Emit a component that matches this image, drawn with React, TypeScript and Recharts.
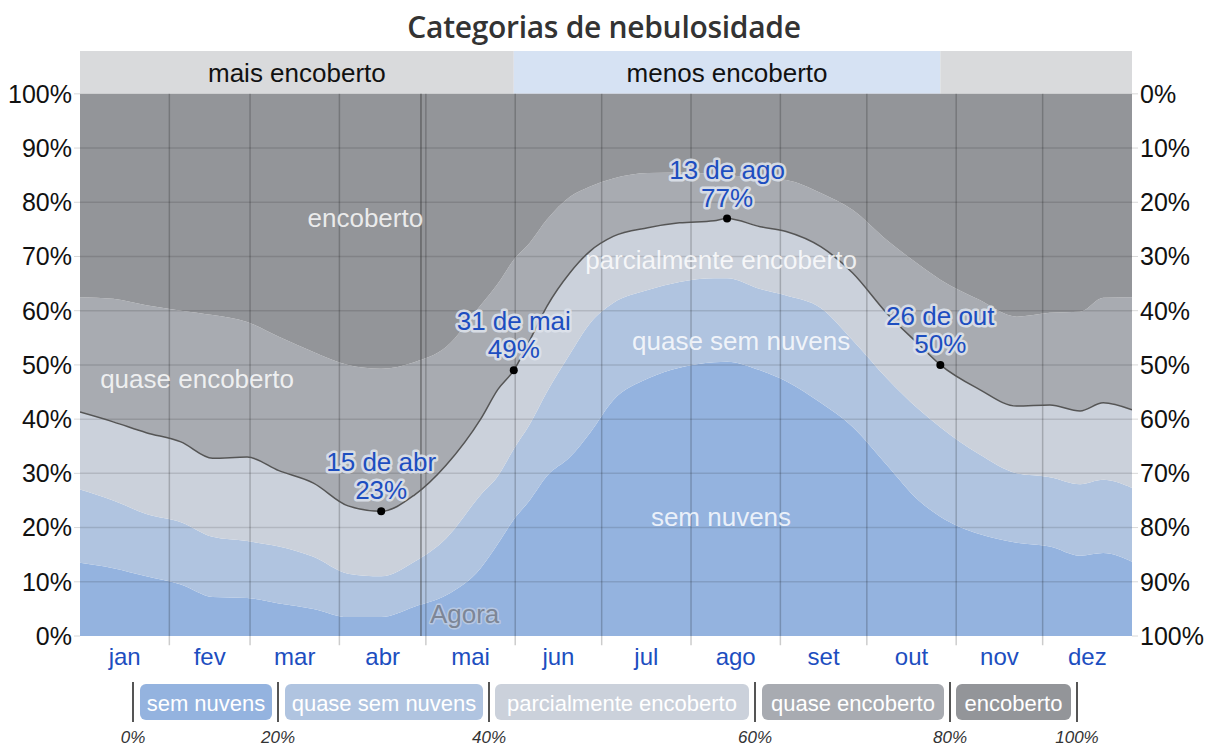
import React from 'react';
import {
  ComposedChart,
  Area,
  Line,
  XAxis,
  YAxis,
  ReferenceLine,
  ReferenceArea,
  ReferenceDot,
} from 'recharts';

// Day of year (0 = 1 jan, 365 = 31 dez end)
const dias = [0, 11.5, 23, 35, 46, 58, 69, 81, 93, 104.5, 116, 127, 139, 145, 150.5, 156, 162, 170, 177, 185, 197, 208, 220, 224.5, 236, 245, 257, 268, 280, 291, 298.5, 312, 325, 336.5, 347, 355, 365];

// Cumulative upper edge (%) of each category
const limiteSemNuvens = [13.5, 12.5, 11, 9.5, 7.2, 7.0, 6.0, 5.0, 3.5, 3.5, 5.4, 7.5, 12.5, 17, 21.5, 25, 29.5, 33, 37.5, 43.5, 47.5, 49.5, 50.5, 50.6, 49, 47, 43, 38.6, 31.5, 25, 22, 18.8, 17.2, 16.5, 14.8, 15.3, 13.7];
const limiteQuaseSemNuvens = [27, 25, 22.5, 21, 18.3, 17.5, 16.5, 14.6, 11.5, 11, 13.7, 18, 26, 29.5, 34.5, 39, 45, 52, 57.7, 61.4, 63.8, 65.3, 66, 66, 64, 62.8, 60.5, 54.6, 47.5, 41.8, 38.5, 33.5, 30, 29.3, 28, 28.8, 27.3];
const limiteParcialmente = [41.3, 39.5, 37.5, 35.8, 32.8, 33, 30.5, 28.2, 24, 23, 26, 31.5, 40, 45.5, 49, 54.5, 60.8, 67, 71, 73.7, 75.3, 76.2, 76.6, 77, 75.5, 74.6, 71.8, 67, 59.5, 53.8, 50, 45.5, 42.4, 42.6, 41.5, 43, 41.7];
const limiteQuaseEncoberto = [62.5, 62.2, 61, 60, 59.2, 57.9, 55.2, 52.4, 50, 49.3, 50.5, 53.3, 61, 65, 69.4, 72.5, 76.8, 81, 82.9, 84.4, 85.4, 85.5, 85.2, 85, 84.5, 84.1, 81.7, 78.6, 73, 68.5, 65.7, 62, 58.9, 59.6, 59.8, 62.4, 62.5];

const meses = ['jan', 'fev', 'mar', 'abr', 'mai', 'jun', 'jul', 'ago', 'set', 'out', 'nov', 'dez'];
const inicioMes = [0, 31, 59, 90, 120, 151, 181, 212, 243, 273, 304, 334, 365];
const percentTicks = [0, 10, 20, 30, 40, 50, 60, 70, 80, 90, 100];

const destaques = [
  { dia: 104.5, valor: 23, data: '15 de abr' },
  { dia: 150.5, valor: 49, data: '31 de mai' },
  { dia: 224.5, valor: 77, data: '13 de ago' },
  { dia: 298.5, valor: 50, data: '26 de out' },
];
const agoraDia = 118.3;
const faixaInicio = 150.5;
const faixaFim = 298.5;

const categorias = [
  { key: 'semNuvens', nome: 'sem nuvens', cor: '#94b3df' },
  { key: 'quaseSemNuvens', nome: 'quase sem nuvens', cor: '#b0c4e0' },
  { key: 'parcialmente', nome: 'parcialmente encoberto', cor: '#cbd1db' },
  { key: 'quaseEncoberto', nome: 'quase encoberto', cor: '#a8abb1' },
  { key: 'encoberto', nome: 'encoberto', cor: '#939599' },
];

// label placement (layout only)
const rotulosAreas = [
  { texto: 'encoberto', dia: 99, y: 77.1 },
  { texto: 'quase encoberto', dia: 40.6, y: 47.4 },
  { texto: 'parcialmente encoberto', dia: 222.4, y: 69.4 },
  { texto: 'quase sem nuvens', dia: 229.4, y: 54.4 },
  { texto: 'sem nuvens', dia: 222.4, y: 22 },
];

const dados = dias.map((d, i) => ({
  dia: d,
  semNuvens: limiteSemNuvens[i],
  quaseSemNuvens: limiteQuaseSemNuvens[i] - limiteSemNuvens[i],
  parcialmente: limiteParcialmente[i] - limiteQuaseSemNuvens[i],
  quaseEncoberto: limiteQuaseEncoberto[i] - limiteParcialmente[i],
  encoberto: 100 - limiteQuaseEncoberto[i],
  linha: limiteParcialmente[i],
}));

const centrosMes = meses.map((_, i) => (inicioMes[i] + inicioMes[i + 1]) / 2);
const FONT = '"Liberation Sans", Arial, sans-serif';
const TOP_BAND = 7.9;

const legendaCaixas = [
  { x: 140, w: 132 },
  { x: 285, w: 198 },
  { x: 495, w: 254 },
  { x: 762, w: 182 },
  { x: 956, w: 115 },
];
const legendaDivisores = [133, 278, 489, 755, 950, 1077];
const legendaPct = ['0%', '20%', '40%', '60%', '80%', '100%'];

const halo = {
  paintOrder: 'stroke' as const,
  stroke: 'rgba(222,227,236,0.9)',
  strokeWidth: 5,
  strokeLinejoin: 'round' as const,
};
const haloAgora = {
  paintOrder: 'stroke' as const,
  stroke: 'rgba(200,210,228,0.7)',
  strokeWidth: 3,
  strokeLinejoin: 'round' as const,
};

export default function App() {
  return (
    <div style={{ position: 'absolute', left: 0, top: 0, width: 1208, height: 745, background: '#fff', fontFamily: FONT }}>
      <svg width={1208} height={50} style={{ position: 'absolute', left: 0, top: 0 }}>
        <text x={604} y={38} textAnchor="middle" fontFamily='"Open Sans", sans-serif' fontWeight={600} fontSize={30} fill="#333" letterSpacing={-0.3}>
          Categorias de nebulosidade
        </text>
      </svg>
      <div style={{ position: 'absolute', left: 0, top: 0 }}>
        <ComposedChart width={1208} height={700} data={dados} margin={{ top: 51, right: 0, bottom: 24, left: 0 }}>
          <XAxis
            dataKey="dia"
            type="number"
            domain={[0, 365]}
            allowDataOverflow
            ticks={centrosMes}
            tickFormatter={(v: number) => meses[centrosMes.indexOf(v)] ?? ''}
            axisLine={false}
            tickLine={false}
            tickMargin={6}
            height={40}
            tick={{ fontSize: 24, fill: '#1d4ec0', fontFamily: FONT }}
            interval={0}
          />
          <YAxis
            yAxisId="l"
            type="number"
            domain={[0, 100 + TOP_BAND]}
            allowDataOverflow
            ticks={percentTicks}
            tickFormatter={(v: number) => `${v}%`}
            width={80}
            axisLine={false}
            tickLine={{ stroke: '#d8d8d8' }}
            tickSize={6}
            tickMargin={2}
            tick={{ fontSize: 25, fill: '#111', fontFamily: FONT }}
            interval={0}
          />
          <YAxis
            yAxisId="r"
            orientation="right"
            type="number"
            domain={[-TOP_BAND, 100]}
            reversed
            allowDataOverflow
            ticks={percentTicks}
            tickFormatter={(v: number) => `${v}%`}
            width={76}
            axisLine={false}
            tickLine={{ stroke: '#d8d8d8' }}
            tickSize={6}
            tickMargin={2}
            tick={{ fontSize: 25, fill: '#111', fontFamily: FONT }}
            interval={0}
          />
          <ReferenceArea yAxisId="l" x1={0} x2={faixaInicio} y1={100} y2={100 + TOP_BAND} fill="#d9dadc" fillOpacity={1} stroke="none"
            label={{ value: 'mais encoberto', position: 'center', fontSize: 26, fill: '#111', fontFamily: FONT }} />
          <ReferenceArea yAxisId="l" x1={faixaInicio} x2={faixaFim} y1={100} y2={100 + TOP_BAND} fill="#d6e2f3" fillOpacity={1} stroke="none"
            label={{ value: 'menos encoberto', position: 'center', fontSize: 26, fill: '#111', fontFamily: FONT }} />
          <ReferenceArea yAxisId="l" x1={faixaFim} x2={365} y1={100} y2={100 + TOP_BAND} fill="#d9dadc" fillOpacity={1} stroke="none" />
          {categorias.map((c) => (
            <Area
              key={c.key}
              yAxisId="l"
              dataKey={c.key}
              stackId="nuvens"
              type="monotone"
              fill={c.cor}
              fillOpacity={1}
              stroke="none"
              isAnimationActive={false}
              dot={false}
              activeDot={false}
            />
          ))}
          {percentTicks.filter((t) => t > 0 && t < 100).map((t) => (
            <ReferenceLine key={'h' + t} yAxisId="l" y={t} stroke="rgba(0,0,0,0.12)" strokeWidth={1.5} />
          ))}
          {inicioMes.slice(1, 12).map((d) => (
            <ReferenceLine key={'v' + d} yAxisId="l" segment={[{ x: d, y: -1.7 }, { x: d, y: 100 }]} ifOverflow="visible" stroke="rgba(0,0,0,0.2)" strokeWidth={1.5} />
          ))}
          <ReferenceLine yAxisId="l" segment={[{ x: agoraDia, y: 0 }, { x: agoraDia, y: 100 }]} stroke="rgba(60,60,60,0.55)" strokeWidth={1.5} />
          <Line yAxisId="l" dataKey="linha" type="monotone" stroke="#555" strokeWidth={1.5} dot={false} activeDot={false} isAnimationActive={false} />
          {rotulosAreas.map((r) => (
            <ReferenceDot key={r.texto} yAxisId="l" x={r.dia} y={r.y} r={0}
              shape={(p: any) => (
                <text x={p.cx} y={p.cy} textAnchor="middle" dominantBaseline="central" fontSize={26} fontFamily={FONT} fill="rgba(255,255,255,0.82)">
                  {r.texto}
                </text>
              )}
            />
          ))}
          <ReferenceDot yAxisId="l" x={121.4} y={4} r={0}
            shape={(p: any) => (
              <text x={p.cx} y={p.cy} textAnchor="start" dominantBaseline="central" fontSize={26} fontFamily={FONT} fill="#7d8696" style={haloAgora}>
                Agora
              </text>
            )}
          />
          {destaques.map((d) => (
            <ReferenceDot key={d.data} yAxisId="l" x={d.dia} y={d.valor} r={4}
              shape={(p: any) => (
                <g>
                  <text x={p.cx} y={p.cy - 40} textAnchor="middle" fontSize={26} fontFamily={FONT} fill="#1d4ec0" style={halo}>
                    {d.data}
                  </text>
                  <text x={p.cx} y={p.cy - 12} textAnchor="middle" fontSize={26} fontFamily={FONT} fill="#1d4ec0" style={halo}>
                    {`${d.valor}%`}
                  </text>
                  <circle cx={p.cx} cy={p.cy} r={4} fill="#000" />
                </g>
              )}
            />
          ))}
        </ComposedChart>
      </div>
      <svg width={1208} height={80} style={{ position: 'absolute', left: 0, top: 670 }}>
        {categorias.map((c, i) => (
          <g key={c.key}>
            <rect x={legendaCaixas[i].x} y={14} width={legendaCaixas[i].w} height={36} rx={6} fill={c.cor} />
            <text x={legendaCaixas[i].x + legendaCaixas[i].w / 2} y={33} textAnchor="middle" dominantBaseline="central" fontSize={22} fontFamily={FONT} fill="#fff">
              {c.nome}
            </text>
          </g>
        ))}
        {legendaDivisores.map((x, i) => (
          <g key={'d' + i}>
            <line x1={x} x2={x} y1={12} y2={52} stroke="#555" strokeWidth={2} />
            <text x={x} y={73} textAnchor="middle" fontSize={17} fontStyle="italic" fontFamily={FONT} fill="#333">
              {legendaPct[i]}
            </text>
          </g>
        ))}
      </svg>
    </div>
  );
}
